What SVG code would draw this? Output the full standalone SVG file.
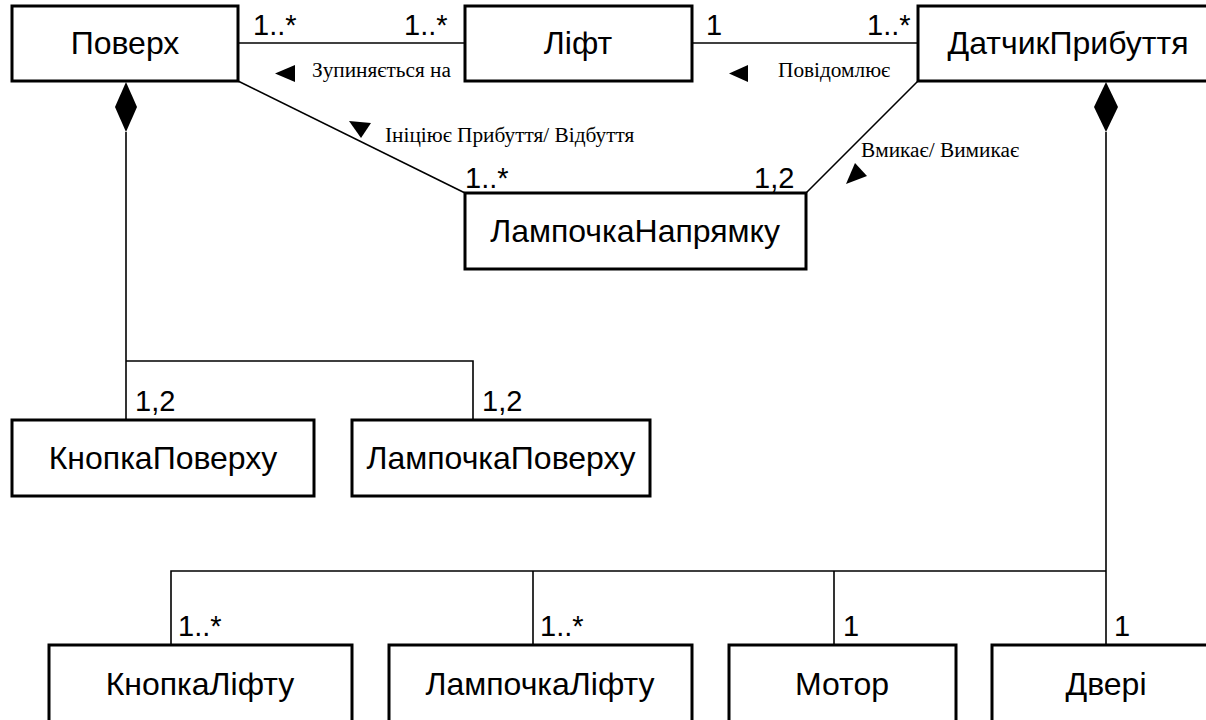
<svg xmlns="http://www.w3.org/2000/svg" width="1206" height="720" viewBox="0 0 1206 720">
  <style>
    .box { fill: #ffffff; stroke: #000000; stroke-width: 3; }
    .name { font-family: "Liberation Sans", Arial, sans-serif; font-size: 32px; fill: #000000; text-anchor: middle; }
    .mult { font-family: "Liberation Sans", Arial, sans-serif; font-size: 29px; fill: #000000; }
    .role { font-family: "Liberation Serif", "Times New Roman", serif; font-size: 21.3px; fill: #000000; }
    .line { fill: none; stroke: #000000; stroke-width: 1.6; }
    .solid { fill: #000000; stroke: none; }
  </style>

  <!-- associations, compositions and their adornments -->
  <g id="connectors">
    <!-- Поверх — Ліфт -->
    <line class="line" x1="238" y1="43" x2="465" y2="43"/>
    <text class="mult" x="253" y="35">1..*</text>
    <text class="mult" x="404" y="35">1..*</text>
    <polygon class="solid" points="275,73.5 295,65 295,82"/>
    <text class="role" x="312" y="77">Зупиняється на</text>

    <!-- Ліфт — ДатчикПрибуття -->
    <line class="line" x1="692" y1="43" x2="918" y2="43"/>
    <text class="mult" x="706" y="35">1</text>
    <text class="mult" x="867" y="35">1..*</text>
    <polygon class="solid" points="729,73.5 748,65 748,82"/>
    <text class="role" x="778" y="77">Повідомлює</text>

    <!-- Поверх — ЛампочкаНапрямку -->
    <line class="line" x1="238" y1="81" x2="465" y2="193"/>
    <polygon class="solid" points="349,121 371,123 361,138"/>
    <text class="role" x="385" y="142">Ініціює Прибуття/ Відбуття</text>
    <text class="mult" x="465" y="188">1..*</text>

    <!-- ДатчикПрибуття — ЛампочкаНапрямку -->
    <line class="line" x1="918" y1="81" x2="806" y2="193"/>
    <polygon class="solid" points="855,163 846,184 867,176"/>
    <text class="role" x="861" y="157">Вмикає/ Вимикає</text>
    <text class="mult" x="754" y="188">1,2</text>

    <!-- Поверх composition -->
    <polygon class="solid" points="126,82 137,107 126,132 115,107"/>
    <polyline class="line" points="126,132 126,420"/>
    <polyline class="line" points="126,361 473,361 473,420"/>
    <text class="mult" x="135" y="411">1,2</text>
    <text class="mult" x="482" y="411">1,2</text>

    <!-- ДатчикПрибуття composition -->
    <polygon class="solid" points="1106,82 1118,107 1106,132 1094,107"/>
    <polyline class="line" points="1106,132 1106,645"/>
    <polyline class="line" points="1106,571 171,571 171,645"/>
    <polyline class="line" points="533,571 533,645"/>
    <polyline class="line" points="834,571 834,645"/>
    <text class="mult" x="178" y="636">1..*</text>
    <text class="mult" x="540" y="636">1..*</text>
    <text class="mult" x="843" y="636">1</text>
    <text class="mult" x="1114" y="636">1</text>
  </g>

  <g id="floor">
    <rect class="box" x="12" y="6" width="226" height="75"/>
    <text class="name" x="125" y="54">Поверх</text>
  </g>
  <g id="lift">
    <rect class="box" x="465" y="6" width="227" height="75"/>
    <text class="name" x="578" y="54">Ліфт</text>
  </g>
  <g id="arrival-sensor">
    <rect class="box" x="918" y="6" width="300" height="75"/>
    <text class="name" x="1068" y="54">ДатчикПрибуття</text>
  </g>
  <g id="direction-lamp">
    <rect class="box" x="465" y="193" width="341" height="76"/>
    <text class="name" x="635" y="242">ЛампочкаНапрямку</text>
  </g>
  <g id="floor-button">
    <rect class="box" x="12" y="420" width="302" height="76"/>
    <text class="name" x="163" y="469">КнопкаПоверху</text>
  </g>
  <g id="floor-lamp">
    <rect class="box" x="352" y="420" width="298" height="76"/>
    <text class="name" x="501" y="469">ЛампочкаПоверху</text>
  </g>
  <g id="lift-button">
    <rect class="box" x="49" y="645" width="303" height="78"/>
    <text class="name" x="200" y="695">КнопкаЛіфту</text>
  </g>
  <g id="lift-lamp">
    <rect class="box" x="389" y="645" width="303" height="78"/>
    <text class="name" x="540" y="695">ЛампочкаЛіфту</text>
  </g>
  <g id="motor">
    <rect class="box" x="729" y="645" width="227" height="78"/>
    <text class="name" x="842" y="695">Мотор</text>
  </g>
  <g id="door">
    <rect class="box" x="992" y="645" width="228" height="78"/>
    <text class="name" x="1106" y="695">Двері</text>
  </g>
</svg>
